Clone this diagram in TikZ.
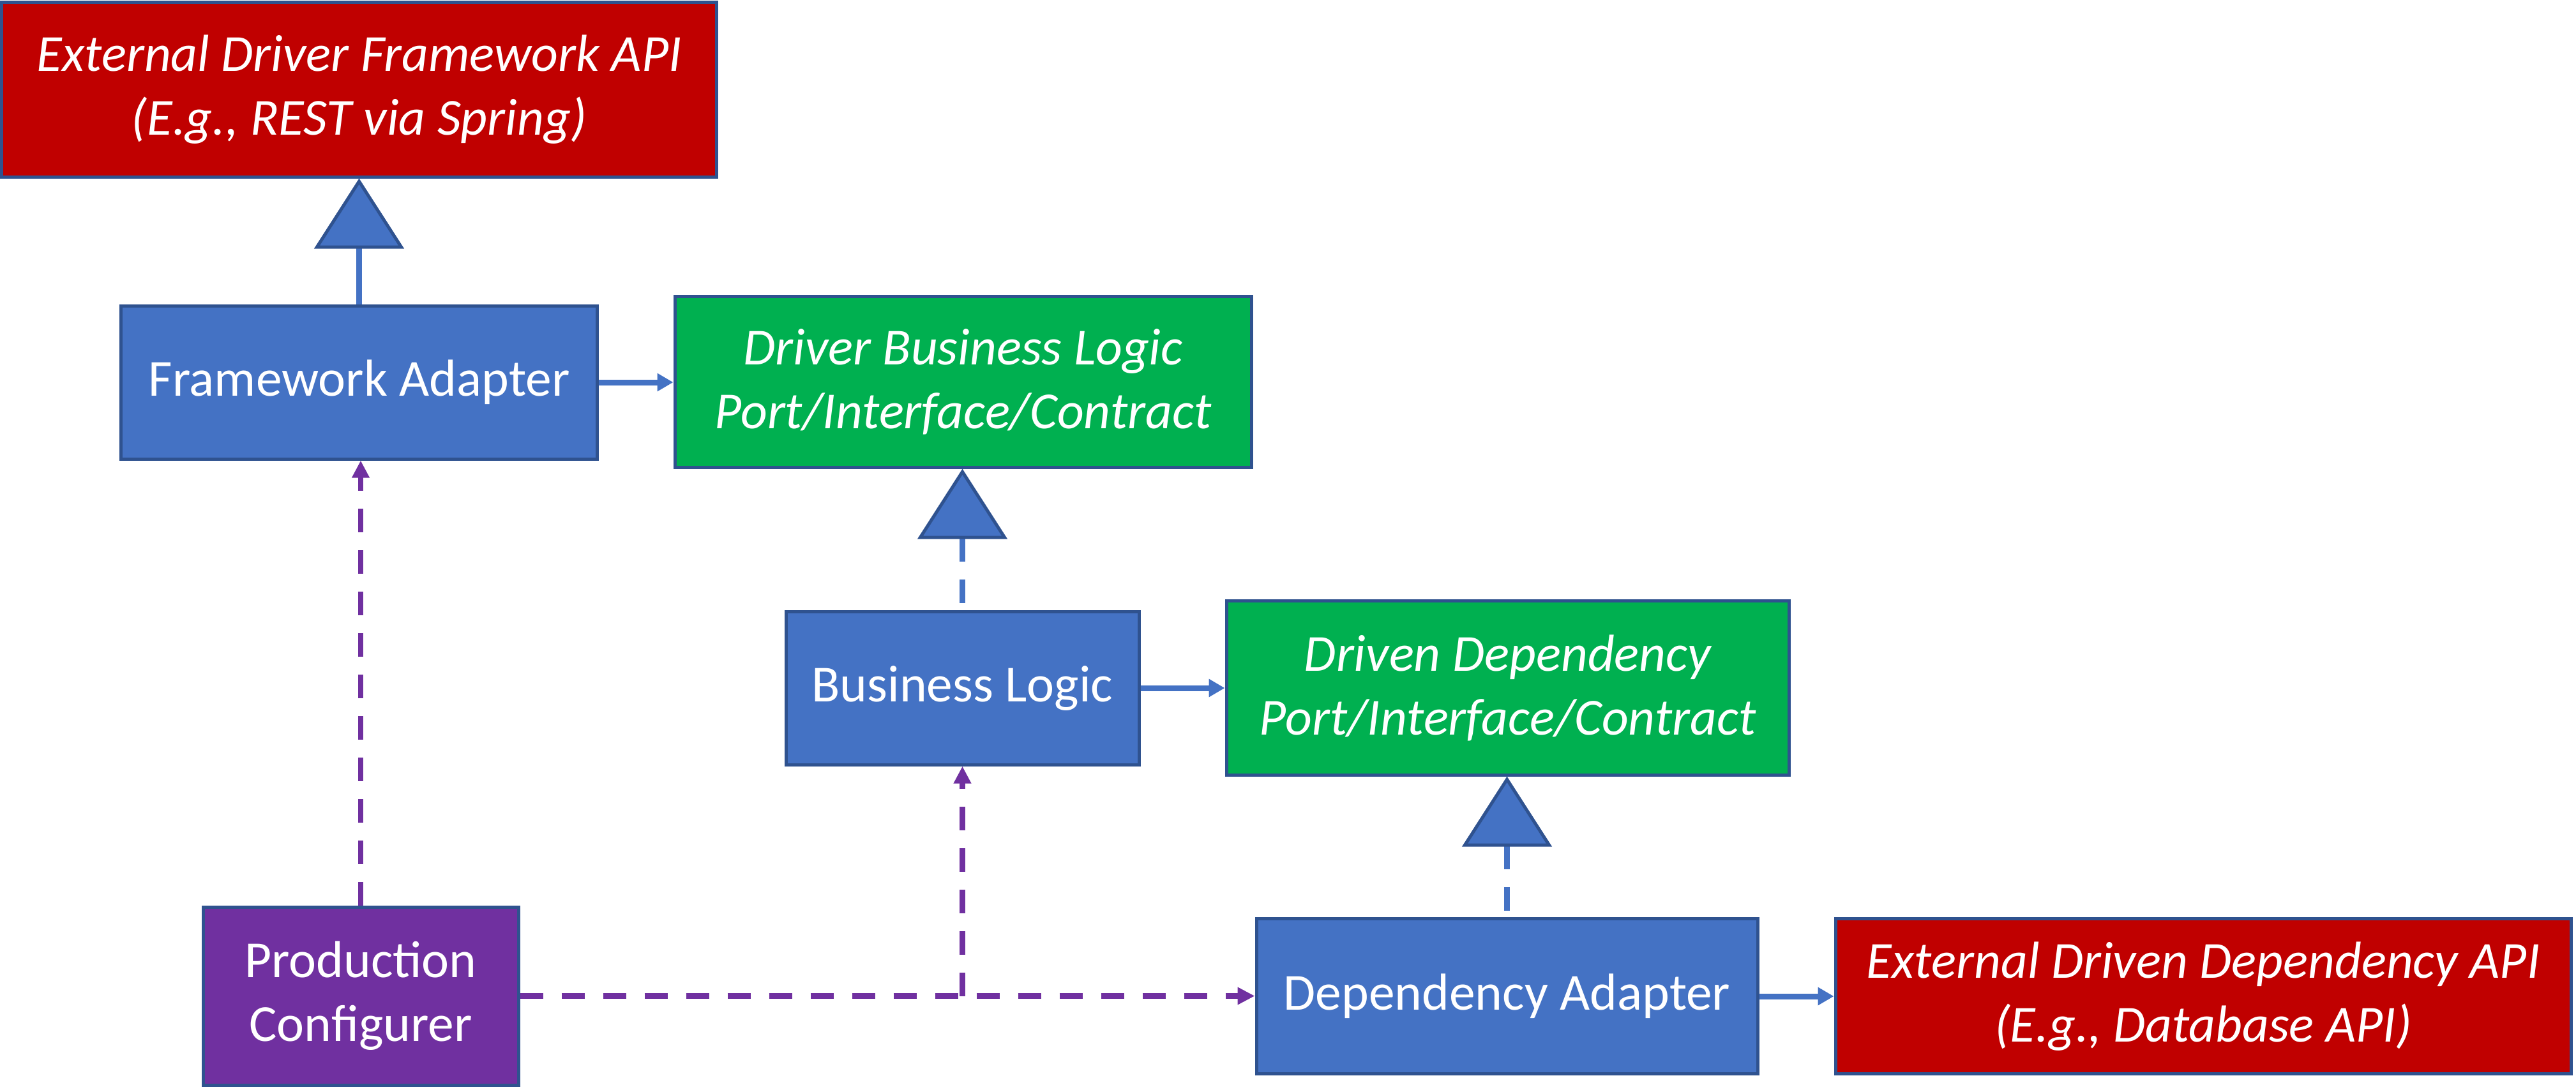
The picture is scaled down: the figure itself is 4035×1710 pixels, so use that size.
\documentclass[tikz,border=0pt]{standalone}
\usepackage{fontspec}
\setmainfont{Carlito}
\usetikzlibrary{arrows.meta}
\definecolor{cRed}{HTML}{C00000}
\definecolor{cGreen}{HTML}{00B050}
\definecolor{cBlue}{HTML}{4472C4}
\definecolor{cPurple}{HTML}{7030A0}
\definecolor{cBorder}{HTML}{2F528F}
\begin{document}
\begin{tikzpicture}[x=0.2pt,y=-0.2pt,
  box/.style={draw=cBorder, line width=1pt, inner sep=0pt, align=center, text=white,
    font=\fontsize{16.3}{20}\selectfont},
  ibox/.style={box, font=\fontsize{16.3}{20}\selectfont\itshape},
  gen/.style={line width=1.8pt, draw=cBlue,
    {Triangle[length=22pt,width=28pt,fill=cBlue,color=cBorder,line width=1pt]}-},
  genD/.style={gen, dash pattern=on 7.3pt off 5.7pt},
  bline/.style={line width=1.8pt, draw=cBlue, -{Triangle[length=5pt,width=5.4pt]}},
  pline/.style={line width=1.7pt, draw=cPurple, dash pattern=on 7.3pt off 5.7pt,
    -{Triangle[length=5.4pt,width=5.2pt]}}
]
\useasboundingbox (0,0) rectangle (4035,1710);

\node[ibox, fill=cRed, minimum width=223.8pt, minimum height=54.8pt] (red1) at (562.5,140)
  {External Driver Framework API\\(E.g., REST via Spring)};
\node[box, fill=cBlue, minimum width=149pt, minimum height=48pt] (fa) at (562.5,599)
  {Framework Adapter};
\node[ibox, fill=cGreen, minimum width=180.6pt, minimum height=53.6pt] (g1) at (1508.5,598)
  {Driver Business Logic\\Port/Interface/Contract};
\node[box, fill=cBlue, minimum width=110.6pt, minimum height=48pt] (bl) at (1507.5,1078)
  {Business Logic};
\node[ibox, fill=cGreen, minimum width=176.2pt, minimum height=54.6pt] (g2) at (2361.5,1077.5)
  {Driven Dependency\\Port/Interface/Contract};
\node[box, fill=cBlue, minimum width=157pt, minimum height=48.6pt] (da) at (2360.5,1561)
  {Dependency Adapter};
\node[ibox, fill=cRed, minimum width=230.4pt, minimum height=48.6pt] (red2) at (3451,1561)
  {External Driven Dependency API\\(E.g., Database API)};
\node[box, fill=cPurple, minimum width=98.8pt, minimum height=55.8pt] (pc) at (565,1560.5)
  {Production\\Configurer};

\draw[gen] (red1.south) -- (fa.north);
\draw[bline] (fa.east) -- (fa.east -| g1.west);
\draw[genD] (bl.north |- g1.south) -- (bl.north);
\draw[bline] (bl.east) -- (bl.east -| g2.west);
\draw[genD] (da.north |- g2.south) -- (da.north);
\draw[bline] (da.east) -- (red2.west);

\draw[pline] (pc.north) -- (pc.north |- fa.south);
\draw[pline] (pc.east) -- (pc.east -| da.west);
\coordinate (j) at (bl.south |- pc.east);
\draw[pline] (j) -- (bl.south);
\end{tikzpicture}
\end{document}
